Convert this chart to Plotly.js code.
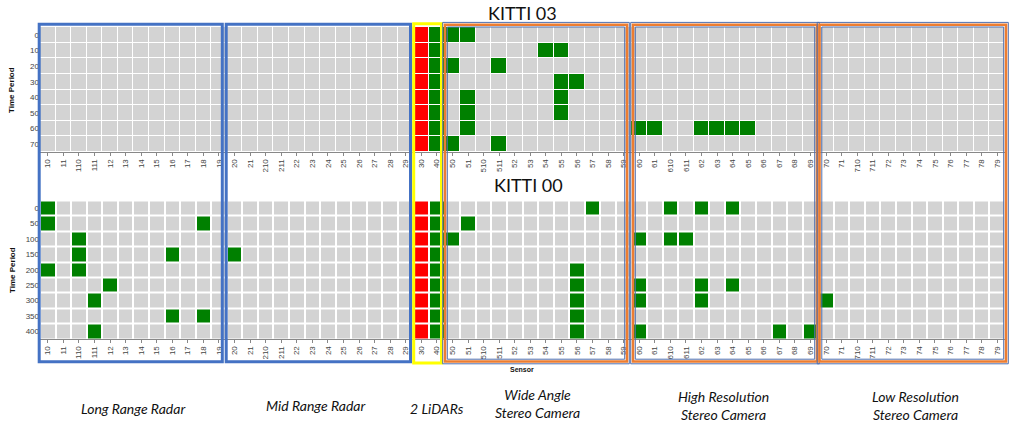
<!DOCTYPE html>
<html>
<head>
<meta charset="utf-8">
<script src="https://cdn.plot.ly/plotly-3.0.1.min.js"></script>
<style>
  html, body { margin: 0; padding: 0; background: #fff; }
  #chart { width: 1015px; height: 426px; }
</style>
</head>
<body>
<div id="chart"></div>
<script>
// ---------------- DATA ----------------
const sensors = ['10','11','110','111','12','13','14','15','16','17','18','19',
                 '20','21','210','211','22','23','24','25','26','27','28','29',
                 '30','40',
                 '50','51','510','511','52','53','54','55','56','57','58','59',
                 '60','61','610','611','62','63','64','65','66','67','68','69',
                 '70','71','710','711','72','73','74','75','76','77','78','79'];

const periods03 = ['0','10','20','30','40','50','60','70'];
const periods00 = ['0','50','100','150','200','250','300','350','400'];

// sensors shown in red / green in every time period
const alwaysRed = ['30'];
const alwaysGreen = ['40'];

// active (green) sensors per time period
const active03 = [
  ['50','51'],
  ['54','55'],
  ['50','511'],
  ['55','56'],
  ['51','55'],
  ['51','55'],
  ['51','60','61','62','63','64','65'],
  ['50','511']
];
const active00 = [
  ['10','57','610','62','64'],
  ['10','18','51'],
  ['110','50','60','610','611'],
  ['110','16','20'],
  ['10','110','56'],
  ['12','56','60','62','64'],
  ['111','56','60','62','70'],
  ['16','18','56'],
  ['111','56','60','67','69']
];

const titles = ['KITTI 03', 'KITTI 00'];
const groupLabels = ['Long Range Radar', 'Mid Range Radar', '2 LiDARs',
                     'Wide Angle<br>Stereo Camera', 'High Resolution<br>Stereo Camera',
                     'Low Resolution<br>Stereo Camera'];

// ---------------- BUILD ----------------
function buildZ(activeRows) {
  return activeRows.map(row => sensors.map(s => {
    if (alwaysRed.includes(s)) return 2;
    if (alwaysGreen.includes(s) || row.includes(s)) return 1;
    return 0;
  }));
}

const cs = [[0,'#d3d3d3'],[0.33,'#d3d3d3'],[0.33,'#008000'],[0.67,'#008000'],[0.67,'#ff0000'],[1,'#ff0000']];

const traces = [
  { type:'heatmap', x: sensors, y: periods03, z: buildZ(active03), xaxis:'x', yaxis:'y',
    colorscale: cs, zmin:0, zmax:2, showscale:false, xgap:1, ygap:1, hoverinfo:'x+y' },
  { type:'heatmap', x: sensors, y: periods00, z: buildZ(active00), xaxis:'x2', yaxis:'y2',
    colorscale: cs, zmin:0, zmax:2, showscale:false, xgap:2, ygap:2, hoverinfo:'x+y' }
];

const L = 40, R = 10, T = 27, B = 87, W = 1015, H = 426;
const pw = W - L - R, ph = H - T - B;
const px = x => (x - L) / pw;
const py = y => (H - B - y) / ph;

const tickFont = { family: 'Liberation Sans, Arial, sans-serif', size: 8, color: '#444' };
const xCommon = {
  type: 'category', categoryorder: 'array', categoryarray: sensors,
  tickangle: -90, tickfont: tickFont, ticks: 'outside', ticklen: 3, tickcolor: '#888',
  showline: true, linecolor: '#888', linewidth: 1, showgrid: false, zeroline: false,
  fixedrange: true
};
const yCommon = {
  type: 'category', autorange: 'reversed', tickfont: tickFont, ticks: '',
  showgrid: false, zeroline: false, showline: false, fixedrange: true
};

function rect(x0, x1, y0, y1, color, w) {
  return { type:'rect', xref:'paper', yref:'paper',
           x0: px(x0), x1: px(x1), y0: py(y1), y1: py(y0),
           line: { color: color, width: w }, fillcolor: 'rgba(0,0,0,0)' };
}
const BLUE = '#4472C4', ORANGE = '#ED7D31', YEL = '#FFFF00', THIN = '#4F6FAF';
const shapes = [
  rect(39.2, 222.3, 24.3, 361.7, BLUE, 3),
  rect(226.2, 410.5, 24.3, 361.7, BLUE, 3),
  rect(413.7, 441.5, 23.7, 363, YEL, 3)
];
[[445, 627], [633, 817], [819.5, 1006]].forEach(([a, b]) => {
  shapes.push(rect(a - 2.3, b + 2.3, 24.7 - 2.3, 361.5 + 2.3, THIN, 1));
  shapes.push(rect(a, b, 24.7, 361.5, ORANGE, 2.6));
  shapes.push(rect(a + 2.3, b - 2.3, 24.7 + 2.3, 361.5 - 2.3, THIN, 1));
});

function ann(text, x, y, font, extra) {
  return Object.assign({ text: text, x: px(x), y: py(y), xref:'paper', yref:'paper',
    showarrow:false, xanchor:'center', yanchor:'middle', font: font }, extra || {});
}
const labFont = { family: 'Lato, Open Sans, sans-serif', size: 14, color: '#111' };
const titleFont = { family: 'Lato, Open Sans, sans-serif', size: 18, color: '#111' };
const axFont = { family: 'Liberation Sans, Arial, sans-serif', size: 8, color: '#111' };
const annotations = [
  ann(titles[0], 522, 13, titleFont),
  ann(titles[1], 528, 185, titleFont),
  ann('<b>Time Period</b>', 12, 90, axFont, { textangle: -90 }),
  ann('<b>Time Period</b>', 12, 270, axFont, { textangle: -90 }),
  ann('<b>Sensor</b>', 522, 369, Object.assign({}, axFont, { size: 7 }))
];
const labPos = [[133, 408], [315, 405], [437, 408], [537, 403.5], [723, 405], [915, 405]];
groupLabels.forEach((t, i) => {
  annotations.push(ann('<i>' + t + '</i>', labPos[i][0], labPos[i][1], labFont, { align: 'center' }));
});

const layout = {
  width: W, height: H,
  margin: { l: L, r: R, t: T, b: B, pad: 0 },
  paper_bgcolor: '#fff', plot_bgcolor: '#fff',
  showlegend: false,
  xaxis: Object.assign({}, xCommon, { domain: [0, 1], anchor: 'y' }),
  yaxis: Object.assign({}, yCommon, { domain: [py(152), 1], anchor: 'x' }),
  xaxis2: Object.assign({}, xCommon, { domain: [0, 1], anchor: 'y2' }),
  yaxis2: Object.assign({}, yCommon, { domain: [0, py(200.5)], anchor: 'x2' }),
  shapes: shapes,
  annotations: annotations
};

Plotly.newPlot('chart', traces, layout, { displayModeBar: false, staticPlot: true });
</script>
</body>
</html>
